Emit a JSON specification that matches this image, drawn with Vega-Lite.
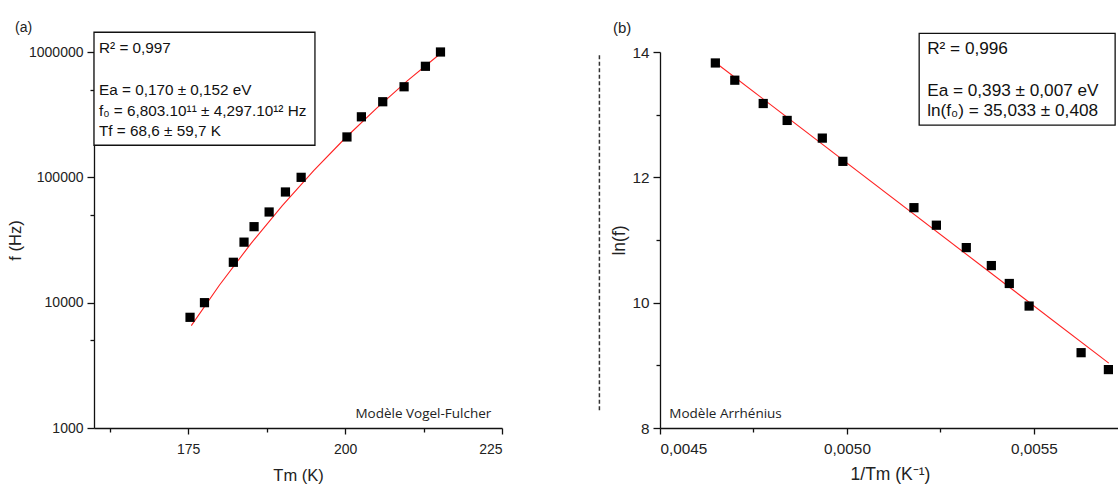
{
  "$schema": "https://vega.github.io/schema/vega-lite/v6.json",
  "background": "white",
  "padding": {"left": 7, "top": 20, "right": 0, "bottom": 0},
  "spacing": 95,
  "config": {
    "view": {"stroke": null},
    "font": "Liberation Sans",
    "axis": {
      "grid": false,
      "domainColor": "#111",
      "domainWidth": 1.3,
      "tickColor": "#111",
      "tickWidth": 1.3,
      "labelFont": "Liberation Sans",
      "labelFontSize": 14,
      "labelColor": "#222",
      "titleFont": "Liberation Sans",
      "titleFontSize": 16.5,
      "titleFontWeight": "normal",
      "titleColor": "#222",
      "labelPadding": 4
    },
    "title": {"font": "Liberation Sans", "fontSize": 14, "fontWeight": "normal", "color": "#222"}
  },
  "datasets": {
    "vf": [
      {"Tm": 175.3, "f": 7640}, {"Tm": 177.6, "f": 10000}, {"Tm": 182.2, "f": 21000},
      {"Tm": 183.9, "f": 30400}, {"Tm": 185.5, "f": 40400}, {"Tm": 187.9, "f": 52900},
      {"Tm": 190.5, "f": 76400}, {"Tm": 193.0, "f": 100000}, {"Tm": 200.3, "f": 210000},
      {"Tm": 202.6, "f": 304000}, {"Tm": 206.0, "f": 401000}, {"Tm": 209.4, "f": 528000},
      {"Tm": 212.8, "f": 769000}, {"Tm": 215.2, "f": 1000000}
    ],
    "vfFit": [
      {"Tm": 175.5, "f": 6556}, {"Tm": 180, "f": 13830}, {"Tm": 185, "f": 29610},
      {"Tm": 190, "f": 59500}, {"Tm": 195, "f": 113200}, {"Tm": 200, "f": 205000},
      {"Tm": 205, "f": 355500}, {"Tm": 210, "f": 593000}, {"Tm": 215.3, "f": 981000}
    ],
    "arr": [
      {"invT": 0.004648, "lnf": 13.825}, {"invT": 0.0047, "lnf": 13.55},
      {"invT": 0.004776, "lnf": 13.178}, {"invT": 0.00484, "lnf": 12.908},
      {"invT": 0.004934, "lnf": 12.626}, {"invT": 0.004989, "lnf": 12.255},
      {"invT": 0.005179, "lnf": 11.516}, {"invT": 0.005239, "lnf": 11.236},
      {"invT": 0.005319, "lnf": 10.879}, {"invT": 0.005386, "lnf": 10.592},
      {"invT": 0.005434, "lnf": 10.306}, {"invT": 0.005487, "lnf": 9.946},
      {"invT": 0.005626, "lnf": 9.202}, {"invT": 0.005699, "lnf": 8.932}
    ],
    "arrFit": [
      {"invT": 0.004648, "lnf": 13.833}, {"invT": 0.0057, "lnf": 9.035}
    ],
    "one": [{}]
  },
  "hconcat": [
    {
      "width": 408,
      "height": 376,
      "title": {"text": "(a)", "anchor": "start", "frame": "group", "dx": -79, "offset": -3},
      "layer": [
        {
          "data": {"name": "one"},
          "mark": {"type": "rect", "fill": "white", "stroke": "#111", "strokeWidth": 1.3},
          "encoding": {
            "x": {"datum": 160, "type": "quantitative"},
            "x2": {"datum": 195.2},
            "y": {"datum": 1437000, "type": "quantitative"},
            "y2": {"datum": 180300}
          }
        },
        {
          "data": {"name": "one"},
          "mark": {"type": "text", "align": "left", "baseline": "alphabetic", "fontSize": 15.3, "dx": 5, "dy": 0.5, "color": "#111", "font": "Liberation Sans"},
          "encoding": {
            "x": {"datum": 160, "type": "quantitative"},
            "y": {"datum": 1000000, "type": "quantitative"},
            "text": {"value": "R² = 0,997"}
          }
        },
        {
          "data": {"name": "one"},
          "mark": {"type": "text", "align": "left", "baseline": "alphabetic", "fontSize": 15.3, "lineHeight": 20.7, "dx": 5, "dy": 43, "color": "#111", "font": "Liberation Sans"},
          "encoding": {
            "x": {"datum": 160, "type": "quantitative"},
            "y": {"datum": 1000000, "type": "quantitative"},
            "text": {"value": ["Ea = 0,170 ± 0,152 eV", "f₀ = 6,803.10¹¹ ± 4,297.10¹² Hz", "Tf = 68,6 ± 59,7 K"]}
          }
        },
        {
          "data": {"name": "vfFit"},
          "mark": {"type": "line", "color": "#ff2020", "strokeWidth": 1.1},
          "encoding": {
            "x": {"field": "Tm", "type": "quantitative"},
            "y": {"field": "f", "type": "quantitative"}
          }
        },
        {
          "data": {"name": "vf"},
          "mark": {"type": "point", "shape": "square", "filled": true, "color": "#000", "size": 85, "opacity": 1},
          "encoding": {
            "x": {
              "field": "Tm", "type": "quantitative",
              "scale": {"domain": [160, 225], "nice": false, "zero": false},
              "axis": {
                "title": "Tm (K)",
                "values": [162.5, 175, 187.5, 200, 212.5, 225],
                "labelExpr": "indexof([175, 200, 225], datum.value) >= 0 ? format(datum.value, 'd') : ''",
                "tickSize": {"condition": {"test": "indexof([175, 200, 225], datum.value) >= 0", "value": 6}, "value": 4},
                "labelPadding": 8,
                "titlePadding": 11
              }
            },
            "y": {
              "field": "f", "type": "quantitative",
              "scale": {"type": "log", "domain": [1000, 1000000], "nice": false},
              "axis": {
                "title": "f (Hz)",
                "values": [1000, 5000, 10000, 50000, 100000, 500000, 1000000],
                "labelExpr": "indexof([1000, 10000, 100000, 1000000], datum.value) >= 0 ? format(datum.value, 'd') : ''",
                "tickSize": {"condition": {"test": "indexof([1000, 10000, 100000, 1000000], datum.value) >= 0", "value": 7}, "value": 4},
                "titlePadding": 5
              }
            }
          }
        },
        {
          "data": {"name": "one"},
          "mark": {"type": "text", "align": "right", "baseline": "alphabetic", "font": "Open Sans", "fontSize": 13.5, "color": "#222"},
          "encoding": {
            "x": {"datum": 223.3, "type": "quantitative"},
            "y": {"datum": 1200, "type": "quantitative"},
            "text": {"value": "Modèle Vogel-Fulcher"}
          }
        }
      ]
    },
    {
      "width": 460,
      "height": 376,
      "title": {"text": "(b)", "anchor": "start", "frame": "group", "dx": -47, "offset": -3, "fontSize": 15},
      "layer": [
        {
          "data": {"name": "one"},
          "mark": {"type": "rule", "stroke": "#333", "strokeWidth": 1.5, "strokeDash": [4, 2.5]},
          "encoding": {
            "x": {"datum": 0.004338, "type": "quantitative"},
            "y": {"datum": 13.95, "type": "quantitative"},
            "y2": {"datum": 8.247}
          }
        },
        {
          "data": {"name": "one"},
          "mark": {"type": "rect", "fill": "white", "stroke": "#111", "strokeWidth": 1.3},
          "encoding": {
            "x": {"datum": 0.005193, "type": "quantitative"},
            "x2": {"datum": 0.005717},
            "y": {"datum": 14.298, "type": "quantitative"},
            "y2": {"datum": 12.833}
          }
        },
        {
          "data": {"name": "one"},
          "mark": {"type": "text", "align": "left", "baseline": "alphabetic", "fontSize": 17.2, "dx": 8, "dy": 2, "color": "#111", "font": "Liberation Sans"},
          "encoding": {
            "x": {"datum": 0.005193, "type": "quantitative"},
            "y": {"datum": 14, "type": "quantitative"},
            "text": {"value": "R² = 0,996"}
          }
        },
        {
          "data": {"name": "one"},
          "mark": {"type": "text", "align": "left", "baseline": "alphabetic", "fontSize": 17.2, "lineHeight": 20.3, "dx": 8, "dy": 44, "color": "#111", "font": "Liberation Sans"},
          "encoding": {
            "x": {"datum": 0.005193, "type": "quantitative"},
            "y": {"datum": 14, "type": "quantitative"},
            "text": {"value": ["Ea = 0,393 ± 0,007 eV", "ln(f₀) = 35,033 ± 0,408"]}
          }
        },
        {
          "data": {"name": "arrFit"},
          "mark": {"type": "line", "color": "#ff2020", "strokeWidth": 1.1},
          "encoding": {
            "x": {"field": "invT", "type": "quantitative"},
            "y": {"field": "lnf", "type": "quantitative"}
          }
        },
        {
          "data": {"name": "arr"},
          "mark": {"type": "point", "shape": "square", "filled": true, "color": "#000", "size": 85, "opacity": 1},
          "encoding": {
            "x": {
              "field": "invT", "type": "quantitative",
              "scale": {"domain": [0.0045, 0.00573], "nice": false, "zero": false},
              "axis": {
                "title": "1/Tm (K⁻¹)",
                "values": [0.0045, 0.00475, 0.005, 0.00525, 0.0055],
                "labelExpr": "indexof([0.0045, 0.005, 0.0055], datum.value) >= 0 ? replace(format(datum.value, '.4f'), '.', ',') : ''",
                "tickSize": {"condition": {"test": "indexof([0.0045, 0.005, 0.0055], datum.value) >= 0", "value": 6}, "value": 4},
                "labelFontSize": 15.3,
                "titleFontSize": 17.5,
                "labelPadding": 7,
                "titlePadding": 9
              }
            },
            "y": {
              "field": "lnf", "type": "quantitative",
              "scale": {"domain": [8, 14], "nice": false, "zero": false},
              "axis": {
                "title": "ln(f)",
                "values": [8, 9, 10, 11, 12, 13, 14],
                "labelExpr": "datum.value % 2 == 0 ? format(datum.value, 'd') : ''",
                "tickSize": {"condition": {"test": "datum.value % 2 == 0", "value": 7}, "value": 4},
                "labelFontSize": 15.3,
                "titleFontSize": 17.5,
                "titlePadding": 3
              }
            }
          }
        },
        {
          "data": {"name": "one"},
          "mark": {"type": "text", "align": "left", "baseline": "alphabetic", "font": "Open Sans", "fontSize": 13.5, "color": "#222"},
          "encoding": {
            "x": {"datum": 0.004525, "type": "quantitative"},
            "y": {"datum": 8.162, "type": "quantitative"},
            "text": {"value": "Modèle Arrhénius"}
          }
        }
      ]
    }
  ]
}
